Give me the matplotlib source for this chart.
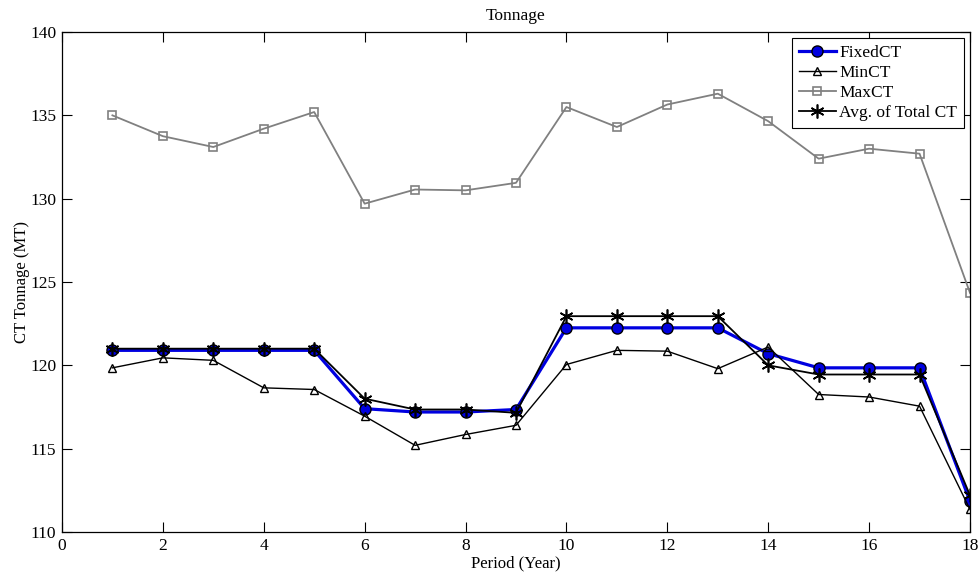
import matplotlib
matplotlib.use("Agg")
import matplotlib.pyplot as plt

periods = list(range(1, 19))
fixed_ct = [120.9, 120.9, 120.9, 120.9, 120.9, 117.4, 117.2, 117.2, 117.35,
            122.25, 122.25, 122.25, 122.25, 120.7, 119.85, 119.85, 119.85, 111.85]
min_ct = [119.85, 120.45, 120.3, 118.65, 118.55, 116.95, 115.2, 115.85, 116.4,
          120.05, 120.9, 120.85, 119.8, 121.1, 118.25, 118.1, 117.55, 111.35]
max_ct = [135.0, 133.75, 133.1, 134.2, 135.2, 129.7, 130.55, 130.5, 130.95,
          135.5, 134.3, 135.65, 136.3, 134.65, 132.4, 133.0, 132.7, 124.35]
avg_total_ct = [121.0, 121.0, 121.0, 121.0, 121.0, 118.0, 117.35, 117.35, 117.15,
                122.95, 122.95, 122.95, 122.95, 120.0, 119.45, 119.45, 119.45, 112.2]

plt.rcParams['font.family'] = ['Liberation Serif', 'DejaVu Serif']

fig = plt.figure(figsize=(9.79, 5.76), dpi=100)
ax = fig.add_axes([0.0633, 0.0764, 0.9275, 0.868])

# asterisk marker: three crossing strokes
asterisk = (6, 2, 0)

ax.plot(periods, fixed_ct, color='#0000e0', lw=2.3, marker='o', ms=8,
        mfc='#0000e0', mec='black', mew=1.0, label='FixedCT')
ax.plot(periods, min_ct, color='black', lw=1.0, marker='^', ms=6,
        mfc='none', mec='black', mew=1.0, label='MinCT')
ax.plot(periods, max_ct, color='#808080', lw=1.3, marker='s', ms=6,
        mfc='none', mec='#808080', mew=1.2, label='MaxCT')
ax.plot(periods, avg_total_ct, color='black', lw=1.3, marker=asterisk, ms=10,
        mfc='black', mec='black', mew=1.2, label='Avg. of Total CT')

ax.set_xlim(0, 18)
ax.set_ylim(110, 140)
ax.set_xticks(range(0, 19, 2))
ax.set_yticks(range(110, 141, 5))
ax.tick_params(direction='in', top=True, right=True, length=7, width=0.8,
               labelsize=12.5, pad=4)
for s in ax.spines.values():
    s.set_linewidth(0.9)

ax.set_title('Tonnage', fontsize=12.5, pad=9)
ax.set_xlabel('Period (Year)', fontsize=12, labelpad=1)
ax.set_ylabel('CT Tonnage (MT)', fontsize=12, labelpad=0.5)

leg = ax.legend(loc='upper right', fontsize=12.5, frameon=True, fancybox=False,
                framealpha=1, edgecolor='black', borderpad=0.4, labelspacing=0.22,
                handlelength=2.1, handletextpad=0.2, borderaxespad=0.35)
leg.get_frame().set_linewidth(0.8)

fig.savefig('out.png', dpi=100)
